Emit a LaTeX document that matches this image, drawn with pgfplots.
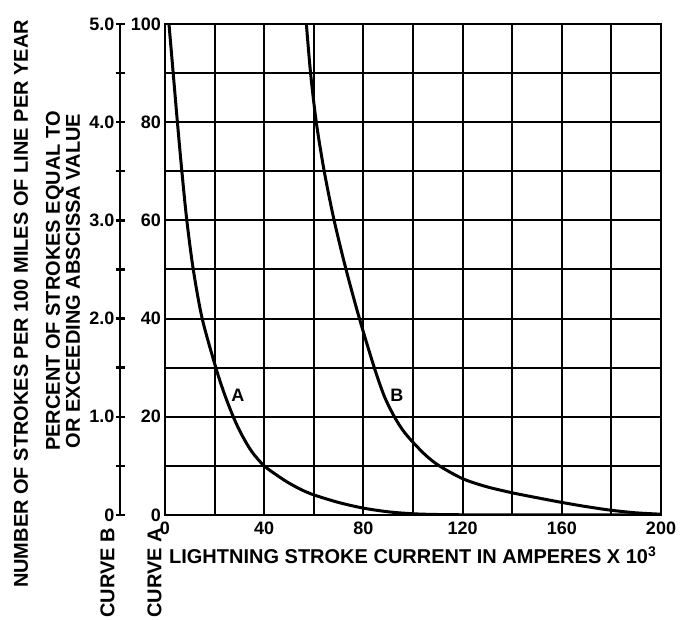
\documentclass[border=0pt]{standalone}
\usepackage{fontspec}
\setmainfont{Liberation Sans}
\usepackage{pgfplots}
\pgfplotsset{compat=1.18}
\begin{document}
\begin{tikzpicture}
\begin{axis}[name=main, scale only axis, width=248pt, height=245.5pt,
  xmin=0, xmax=200, ymin=0, ymax=100,
  xtick={0,40,...,200}, minor xtick={20,60,...,180},
  ytick={0,20,...,100}, minor ytick={10,30,...,90},
  grid=both,
  grid style={black, line width=1pt},
  minor grid style={black, line width=1pt},
  major tick length=0pt, minor tick length=0pt,
  axis line style={line width=1.3pt},
  tick label style={font=\bfseries\fontsize{9}{9}\selectfont},
  yticklabel style={xshift=1.5pt},
  /pgf/number format/assume math mode=true,
  clip=true]
\addplot[black, line width=1.5pt, smooth] coordinates {
  (1.6,100) (3.3,90) (5.0,80) (6.8,70) (8.8,60) (11.4,50) (15,40) (20.5,30)
  (24,24.6) (27.7,19.8) (31,16.3) (35,12.9) (40,10) (46,7.8) (50,6.5)
  (55,5.15) (60,4.1) (70,2.55) (80,1.4) (90,0.65)
  (100,0.25) (110,0.1) (125,0.03) (150,0.01) (200,0)};
\node[font=\bfseries\fontsize{9}{9}\selectfont] at (axis cs:29.4,24.4) {A};
\node[font=\bfseries\fontsize{9}{9}\selectfont] at (axis cs:93.5,24.4) {B};
\end{axis}
\begin{axis}[at={(main.south west)}, anchor=south west, xshift=-22.5pt,
  scale only axis, width=270.5pt, height=245.5pt,
  xmin=-18.145, xmax=200, ymin=0, ymax=5,
  axis x line=none, axis y line=left,
  axis line style={-, line width=1.3pt},
  ytick={0,1,...,5}, yticklabels={0,1.0,2.0,3.0,4.0,5.0},
  minor ytick={0.5,1.5,...,4.5},
  tick align=center, major tick length=4.5pt, minor tick length=4.5pt,
  tick style={line width=1.2pt, black},
  tick label style={font=\bfseries\fontsize{9}{9}\selectfont},
  yticklabel style={xshift=3pt},
  /pgf/number format/assume math mode=true,
  clip=true]
\addplot[black, line width=1.5pt, smooth] coordinates {
  (57.0,5.0) (58.7,4.5) (61,4.0) (64.2,3.5) (68.2,3.0) (73,2.5) (78.4,2.0)
  (84.4,1.5) (88.5,1.205) (92.5,1.0) (96,0.86) (100,0.74) (105.4,0.602)
  (110.7,0.499) (120,0.37) (129.4,0.29) (140,0.226) (150,0.176)
  (160,0.128) (170,0.085) (180,0.048) (190,0.022) (200,0.008)};
\end{axis}
\node[font=\bfseries\fontsize{10}{10}\selectfont] at ([shift={(0pt,-20pt)}]main.south)
  {LIGHTNING STROKE CURRENT IN AMPERES X 10\textsuperscript{3}};
\node[rotate=90, font=\bfseries\fontsize{10}{10}\selectfont] at ([shift={(-72pt,105.5pt)}]main.south west)
  {NUMBER OF STROKES PER 100 MILES OF LINE PER YEAR};
\node[rotate=90, font=\bfseries\fontsize{10}{10}\selectfont, align=center] at ([shift={(-51pt,117pt)}]main.south west)
  {PERCENT OF STROKES EQUAL TO\\OR EXCEEDING ABSCISSA VALUE};
\node[rotate=90, anchor=center, font=\bfseries\fontsize{10}{10}\selectfont] at ([shift={(-28.75pt,-29pt)}]main.south west) {CURVE B};
\node[rotate=90, anchor=center, font=\bfseries\fontsize{10}{10}\selectfont] at ([shift={(-5.25pt,-29pt)}]main.south west) {CURVE A};
\pgfresetboundingbox
\path ([shift={(-82.5pt,-52pt)}]main.south west) rectangle ([shift={(11pt,12pt)}]main.north east);
\end{tikzpicture}
\end{document}
